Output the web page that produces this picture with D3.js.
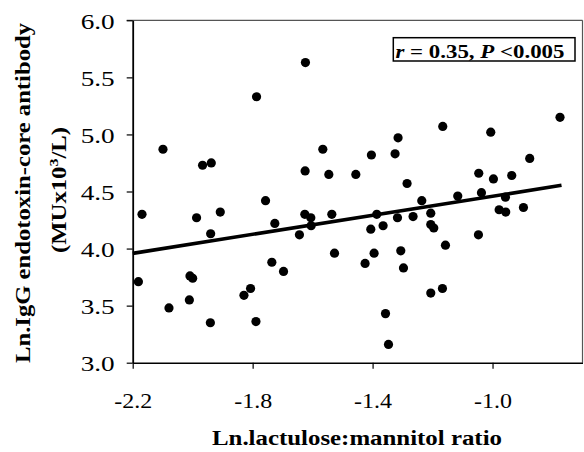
<!DOCTYPE html>
<html>
<head>
<meta charset="utf-8">
<script src="https://cdn.jsdelivr.net/npm/d3@7"></script>
<style>
  body { margin: 0; background: #fff; }
  svg { display: block; }
</style>
</head>
<body>
<div id="chart"></div>
<script>
// values
const lm_ratio = [-2.181, -2.169, -2.099, -2.079, -2.011, -2.009, -2.000, -1.987, -1.967, -1.938,
                  -1.940, -1.941, -1.908, -1.829, -1.807, -1.789, -1.787, -1.757, -1.736, -1.726,
                  -1.697, -1.644, -1.624, -1.566, -1.625, -1.546, -1.456, -1.404, -1.315, -1.325,
                  -1.285, -1.236, -1.626, -1.606, -1.605, -1.536, -1.527, -1.425, -1.406, -1.395,
                  -1.386, -1.365, -1.357, -1.347, -1.317, -1.306, -1.297, -1.265, -1.206, -1.206,
                  -1.196, -1.206, -1.167, -1.166, -1.157, -1.116, -1.047, -1.046, -1.037, -1.006,
                  -0.997, -0.978, -0.957, -0.956, -0.936, -0.897, -0.876, -0.775];
const igg = [3.71, 4.30, 4.87, 3.48, 3.55, 3.76, 3.74, 4.27, 4.73, 4.75,
             4.13, 3.35, 4.32, 3.59, 3.65, 3.36, 5.33, 4.42, 3.88, 4.22,
             3.80, 4.12, 5.63, 4.87, 4.68, 4.65, 4.65, 4.82, 4.97, 4.83,
             4.57, 4.42, 4.30, 4.27, 4.20, 4.30, 3.96, 3.87, 4.17, 3.96,
             4.30, 4.20, 3.43, 3.16, 4.27, 3.98, 3.83, 4.28, 4.31, 4.21,
             4.18, 3.61, 3.65, 5.07, 4.03, 4.46, 4.12, 4.66, 4.49, 5.02,
             4.61, 4.34, 4.45, 4.32, 4.64, 4.36, 4.79, 5.15];

// regression line end points
const fit_x = [-2.2, -0.77];
const fit_y = [3.958, 4.554];

const x_ticks = [-2.2, -1.8, -1.4, -1.0];
const y_ticks = [3.0, 3.5, 4.0, 4.5, 5.0, 5.5, 6.0];

const x_title = "Ln.lactulose:mannitol ratio";
const y_title = "Ln.IgG endotoxin-core antibody";

const width = 584, height = 452;
const margin = {top: 20.3, right: 1.5, bottom: 89.3, left: 132.7};
const plot_w = width - margin.left - margin.right,
      plot_h = height - margin.top - margin.bottom;

const serif = "'Liberation Serif', 'Times New Roman', serif";

// plain hyphen for negatives, like the original
function fmt(d) { return d.toFixed(1); }

let svg = d3.select("#chart")
    .append("svg")
    .attr("width", width)
    .attr("height", height);

let g = svg.append("g")
    .attr("transform", "translate(" + margin.left + "," + margin.top + ")");

let x = d3.scaleLinear().domain([-2.2, -0.7]).range([0, plot_w]);
let y = d3.scaleLinear().domain([3.0, 6.0]).range([plot_h, 0]);

// top + right border (thin, greyish in the scan)
g.append("line")
    .attr("x1", -6).attr("x2", plot_w)
    .attr("y1", 0).attr("y2", 0)
    .attr("stroke", "#555").attr("stroke-width", 1.2);
g.append("line")
    .attr("x1", plot_w).attr("x2", plot_w)
    .attr("y1", 0).attr("y2", plot_h)
    .attr("stroke", "#555").attr("stroke-width", 1.2);

// X axis
let xAxis = g.append("g")
    .attr("transform", "translate(0," + plot_h + ")")
    .call(d3.axisBottom(x)
        .tickValues(x_ticks)
        .tickFormat(fmt)
        .tickSize(6)
        .tickSizeOuter(0));
xAxis.select(".domain").attr("stroke-width", 1.5);
xAxis.selectAll(".tick line").attr("stroke-width", 1.2);
xAxis.selectAll("text")
    .attr("y", 45.6)
    .attr("dy", 0)
    .attr("fill", "#000")
    .attr("font-family", serif)
    .attr("font-size", 22)
    .attr("textLength", 38)
    .attr("lengthAdjust", "spacingAndGlyphs");

// Y axis
let yAxis = g.append("g")
    .call(d3.axisLeft(y)
        .tickValues(y_ticks)
        .tickFormat(fmt)
        .tickSize(6)
        .tickSizeOuter(0)
        .tickPadding(12));
yAxis.select(".domain").attr("stroke-width", 1.8);
yAxis.selectAll(".tick line").attr("stroke-width", 1.2);
yAxis.selectAll("text")
    .attr("dy", "0.36em")
    .attr("fill", "#000")
    .attr("font-family", serif)
    .attr("font-size", 22)
    .attr("textLength", 34)
    .attr("lengthAdjust", "spacingAndGlyphs");

// regression line
g.append("line")
    .attr("x1", x(fit_x[0])).attr("y1", y(fit_y[0]))
    .attr("x2", x(fit_x[1])).attr("y2", y(fit_y[1]))
    .attr("stroke", "#000")
    .attr("stroke-width", 3.6);

// points
let pts = lm_ratio.map(function(d, i) { return {x: d, y: igg[i]}; });
g.selectAll("circle.pt")
    .data(pts)
    .enter()
    .append("circle")
    .attr("class", "pt")
    .attr("cx", function(d) { return x(d.x); })
    .attr("cy", function(d) { return y(d.y); })
    .attr("r", 4.6)
    .attr("fill", "#000");

// r / P box
g.append("rect")
    .attr("x", 393.3 - margin.left)
    .attr("y", 37.7 - margin.top)
    .attr("width", 181.7)
    .attr("height", 23.3)
    .attr("fill", "#fff")
    .attr("stroke", "#000")
    .attr("stroke-width", 1.5);
let stat = g.append("text")
    .attr("x", 395.5 - margin.left)
    .attr("y", 57.6 - margin.top)
    .attr("font-family", serif)
    .attr("font-weight", "bold")
    .attr("font-size", 18.5)
    .attr("textLength", 169)
    .attr("lengthAdjust", "spacingAndGlyphs");
stat.append("tspan").attr("font-style", "italic").text("r");
stat.append("tspan").text(" = 0.35, ");
stat.append("tspan").attr("font-style", "italic").text("P");
stat.append("tspan").text(" <0.005");

// axis titles
svg.append("text")
    .attr("x", 357)
    .attr("y", 445)
    .attr("text-anchor", "middle")
    .attr("font-family", serif)
    .attr("font-weight", "bold")
    .attr("font-size", 20)
    .attr("textLength", 290)
    .attr("lengthAdjust", "spacingAndGlyphs")
    .text(x_title);

svg.append("text")
    .attr("transform", "translate(30,193) rotate(-90)")
    .attr("text-anchor", "middle")
    .attr("font-family", serif)
    .attr("font-weight", "bold")
    .attr("font-size", 20)
    .attr("textLength", 340)
    .attr("lengthAdjust", "spacingAndGlyphs")
    .text(y_title);

let unit = svg.append("text")
    .attr("transform", "translate(66,190) rotate(-90)")
    .attr("text-anchor", "middle")
    .attr("font-family", serif)
    .attr("font-weight", "bold")
    .attr("font-size", 20)
    .attr("textLength", 126)
    .attr("lengthAdjust", "spacingAndGlyphs");
unit.append("tspan").text("(MUx10");
unit.append("tspan").attr("font-size", 13).attr("dy", -8).text("3");
unit.append("tspan").attr("dy", 8).text("/L)");
</script>
</body>
</html>
